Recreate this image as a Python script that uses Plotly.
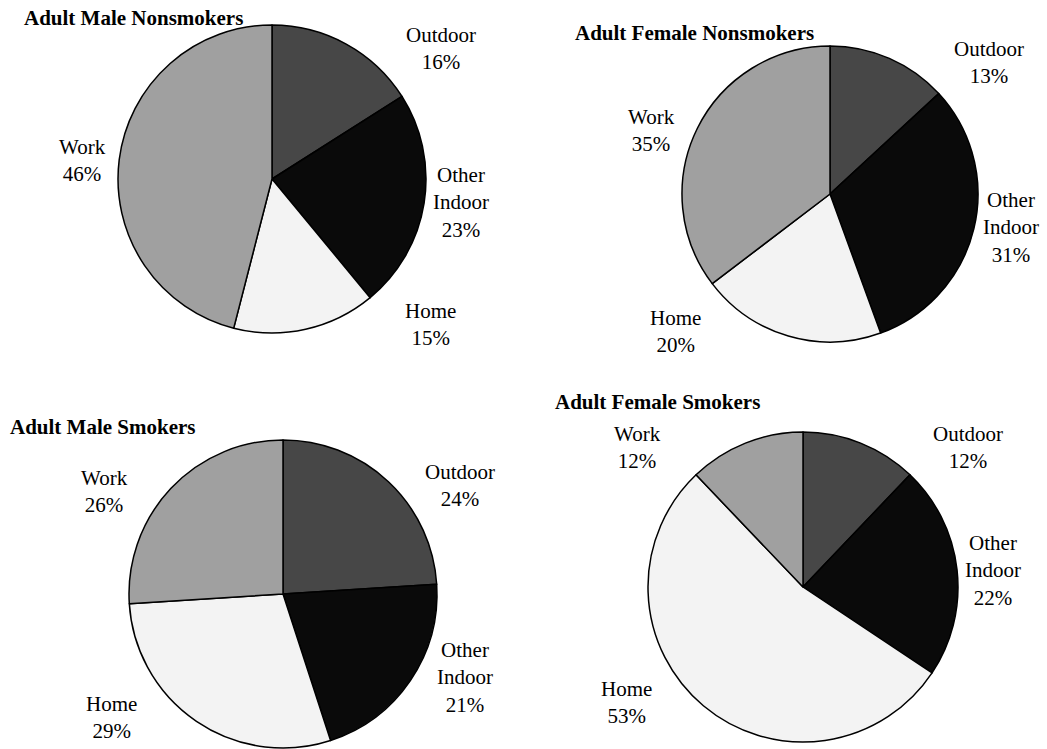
import math
import plotly.graph_objects as go

# ---- data ----
categories = ["Outdoor", "Other<br>Indoor", "Home", "Work"]
titles = ["Adult Male Nonsmokers", "Adult Female Nonsmokers",
          "Adult Male Smokers", "Adult Female Smokers"]
male_nonsmokers = [16, 23, 15, 46]
female_nonsmokers = [13, 31, 20, 35]
male_smokers = [24, 21, 29, 26]
female_smokers = [12, 22, 53, 12]
series = [male_nonsmokers, female_nonsmokers, male_smokers, female_smokers]

# ---- layout / style ----
W, H = 1047, 749
colors = ["#474747", "#0a0a0a", "#f3f3f3", "#a0a0a0"]
FONT = "Liberation Serif, Times New Roman, serif"
# pie centers and radii in pixels
pie_geom = [(272, 179, 154), (830, 194, 148), (283, 594, 154), (803, 587, 155)]
title_pos = [(22, 18), (573, 33), (8, 427), (553, 402)]

fig = go.Figure()
for vals, (cx, cy, r) in zip(series, pie_geom):
    fig.add_trace(go.Pie(
        labels=categories, values=vals, sort=False, direction="clockwise",
        rotation=0, textinfo="none",
        marker=dict(colors=colors, line=dict(color="black", width=1.5)),
        domain=dict(x=[(cx - r) / W, (cx + r) / W],
                    y=[max(0, 1 - (cy + r) / H), min(1, 1 - (cy - r) / H)]),
        showlegend=False, hoverinfo="label+value",
    ))
    # outside labels placed from each slice's mid angle
    total = float(sum(vals))
    cum = 0.0
    for lab, v in zip(categories, vals):
        theta = 2 * math.pi * (cum + v / 2) / total
        cum += v
        s, c = math.sin(theta), math.cos(theta)
        dx = math.copysign(r * (0.97 + 0.26 * abs(s)), s)
        dy = -c * r * 0.97
        fig.add_annotation(
            text="%s<br>%d%%" % (lab, v), x=(cx + dx) / W, y=1 - (cy + dy) / H,
            xref="paper", yref="paper", xanchor="center", yanchor="middle",
            showarrow=False, align="center",
            font=dict(family=FONT, size=21, color="black"))

for t, (tx, ty) in zip(titles, title_pos):
    fig.add_annotation(text="<b>%s</b>" % t, x=tx / W, y=1 - ty / H,
                       xref="paper", yref="paper", xanchor="left", yanchor="middle",
                       showarrow=False, font=dict(family=FONT, size=21, color="black"))

fig.update_layout(width=W, height=H, margin=dict(l=0, r=0, t=0, b=0),
                  paper_bgcolor="white", plot_bgcolor="white")
fig.write_html("out.html", config={"displayModeBar": False},
               post_script="document.body.style.margin='0';document.body.style.overflow='hidden';")
